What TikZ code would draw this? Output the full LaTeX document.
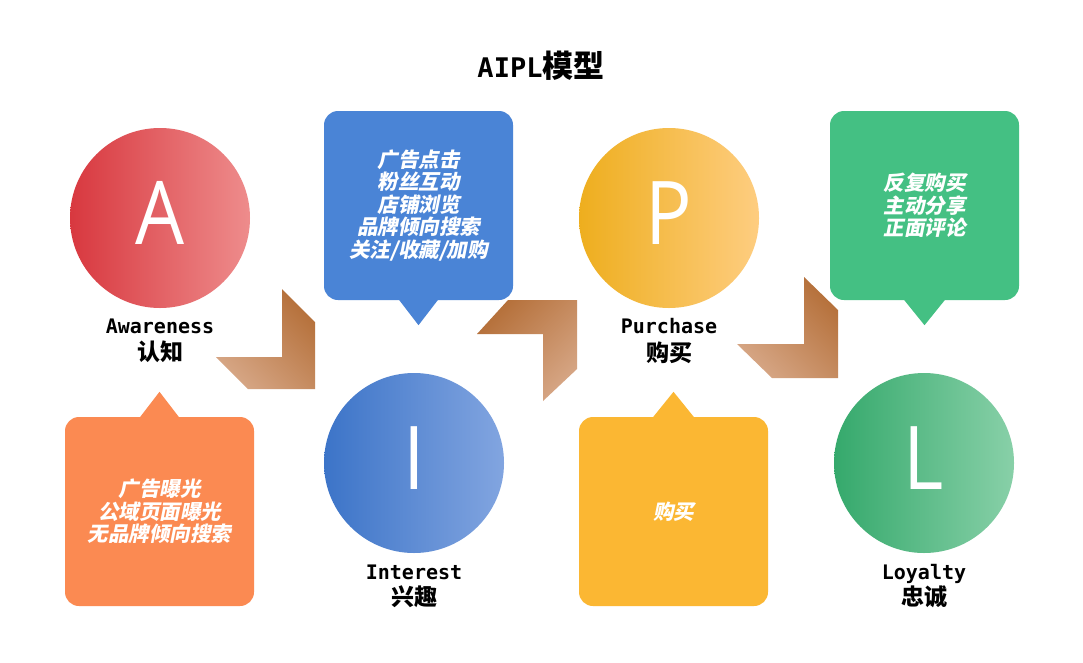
\documentclass[tikz,border=0pt]{standalone}
\usepackage{fontspec}
\setmainfont{Liberation Sans}
\newfontfamily\monof{DejaVu Sans Mono}
\newfontfamily\cjkf{Noto Sans CJK SC}
\newfontfamily\cjkif{Noto Sans CJK SC}[FakeSlant=0.2]
\newfontfamily\letf{Open Sans}[FakeStretch=0.88]
\usetikzlibrary{calc}
\definecolor{aL}{HTML}{D8383F}\definecolor{aR}{HTML}{EE8C8C}
\definecolor{iL}{HTML}{3C74C8}\definecolor{iR}{HTML}{82A5E0}
\definecolor{pL}{HTML}{EEAE1E}\definecolor{pR}{HTML}{FECD80}
\definecolor{lL}{HTML}{35A96C}\definecolor{lR}{HTML}{88D0A8}
\definecolor{cBlue}{HTML}{4A84D6}
\definecolor{cGreen}{HTML}{44C083}
\definecolor{cOrange}{HTML}{FB8A52}
\definecolor{cYellow}{HTML}{FBB733}
\definecolor{chDark}{HTML}{B5703A}
\definecolor{chLight}{HTML}{D6A685}
\begin{document}
\begin{tikzpicture}[x=1pt,y=-1pt,
  stage/.style={circle,minimum size=180pt,inner sep=0pt},
  letter/.style={text=white,font=\letf\fontsize{88}{88}\selectfont,inner sep=0pt},
  callout/.style={rectangle,rounded corners=14pt,minimum width=189pt,minimum height=189pt,
    text=white,align=center,inner sep=0pt,font=\cjkif\bfseries\fontsize{20.5}{22.5}\selectfont},
  enlab/.style={anchor=base,inner sep=0pt,font=\monof\bfseries\fontsize{20}{20}\selectfont},
  cnlab/.style={inner sep=0pt,font=\cjkf\bfseries\fontsize{23}{23}\selectfont},
  chev/.style={top color=chDark,bottom color=chLight}
]
\useasboundingbox (0,0) rectangle (1083,662);
\fill[white] (0,0) rectangle (1083,662);

% title
\node[inner sep=0pt] (title) at (541,66) {{\monof\bfseries\fontsize{27}{27}\selectfont AIPL}{\cjkf\bfseries\fontsize{31}{31}\selectfont 模型}};

% callouts
\node[callout,fill=cBlue] (bc) at (418.5,205.5) {广告点击\\粉丝互动\\店铺浏览\\品牌倾向搜索\\关注/收藏/加购};
\fill[cBlue] ([xshift=-20pt,yshift=1pt]bc.south) -- ([xshift=20pt,yshift=1pt]bc.south) -- ([yshift=-25pt]bc.south) -- cycle;

\node[callout,fill=cGreen] (gc) at (924.5,205.5) {反复购买\\主动分享\\正面评论};
\fill[cGreen] ([xshift=-21pt,yshift=1pt]gc.south) -- ([xshift=21pt,yshift=1pt]gc.south) -- ([yshift=-25pt]gc.south) -- cycle;

\node[callout,fill=cOrange] (oc) at (159.5,511.5) {广告曝光\\公域页面曝光\\无品牌倾向搜索};
\fill[cOrange] ([xshift=-20pt,yshift=-1pt]oc.north) -- ([xshift=20pt,yshift=-1pt]oc.north) -- ([yshift=25pt]oc.north) -- cycle;

\node[callout,fill=cYellow] (yc) at (673.5,511.5) {购买};
\fill[cYellow] ([xshift=-21pt,yshift=-1pt]yc.north) -- ([xshift=21pt,yshift=-1pt]yc.north) -- ([yshift=25pt]yc.north) -- cycle;

% stage circles
\node[stage,left color=aL,right color=aR] (ca) at (160,218) {};
\node[letter] (ta) at ([yshift=5pt]ca.center) {A};
\node[stage,left color=iL,right color=iR] (ci) at (414,463) {};
\node[letter] (ti) at ([yshift=5pt]ci.center) {I};
\node[stage,left color=pL,right color=pR] (cp) at (669,218) {};
\node[letter] (tp) at ([yshift=5pt]cp.center) {P};
\node[stage,left color=lL,right color=lR] (cl) at (924,463) {};
\node[letter] (tl) at ([yshift=5pt]cl.center) {L};

% labels
\node[enlab] (la1) at (160,333) {Awareness};
\node[cnlab] (la2) at (160,352) {认知};
\node[enlab] (li1) at (414,579) {Interest};
\node[cnlab] (li2) at (414,597) {兴趣};
\node[enlab] (lp1) at (669,333) {Purchase};
\node[cnlab] (lp2) at (669,353) {购买};
\node[enlab] (ll1) at (924,579) {Loyalty};
\node[cnlab] (ll2) at (924,597) {忠诚};

% chevrons
\shade[chev,shading angle=-45] (282,289) -- (315,322) -- (315,389) -- (248,389) -- (216,357) -- (282,357) -- cycle;
\shade[chev,shading angle=45] (477,334) -- (508,300) -- (577,300) -- (577,369) -- (543,401) -- (543,334) -- cycle;
\shade[chev,shading angle=-45] (804,277) -- (838,310) -- (838,378) -- (772,378) -- (737,344) -- (804,344) -- cycle;
\end{tikzpicture}
\end{document}
